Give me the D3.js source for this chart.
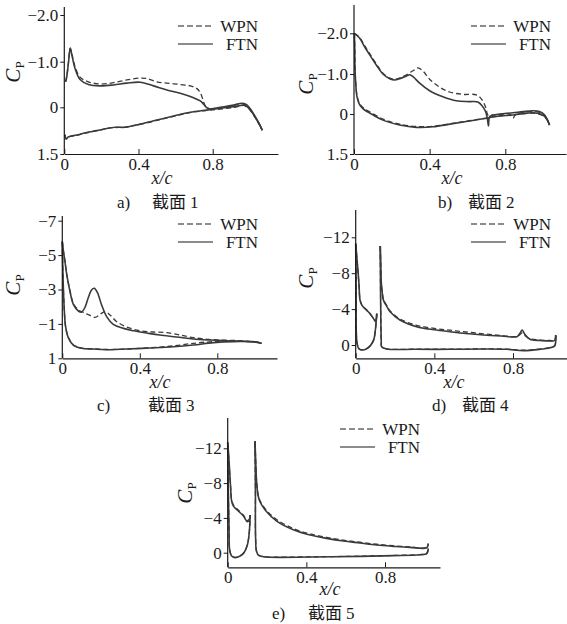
<!DOCTYPE html>
<html><head><meta charset="utf-8">
<script src="https://cdn.jsdelivr.net/npm/d3@7"></script>
<style>body{margin:0;background:#fff}svg{display:block}</style>
</head><body><svg id="c" width="567" height="624"></svg>
<script>
// ---------------- data ----------------
const seriesNames = ["WPN", "FTN"];
const xTickValues = [0, 0.4, 0.8];
const xTickLabels = ["0", "0.4", "0.8"];
const yTicksAB = [-2, -1, 0, 1.5];
const yTickLabelsAB = ["−2.0", "−1.0", "0", "1.5"];
const yTicksC = [-7, -5, -3, -1, 1];
const yTickLabelsC = ["−7", "−5", "−3", "−1", "1"];
const yTicksDE = [-12, -8, -4, 0];
const yTickLabelsDE = ["−12", "−8", "−4", "0"];
const captionLetters = ["a)", "b)", "c)", "d)", "e)"];
const sectionNames = ["截面 1", "截面 2", "截面 3", "截面 4", "截面 5"];

// panel a (截面 1)
const A_FTN = [
  [[0.007,-0.56],[0.013,-0.67],[0.022,-0.96],[0.032,-1.29],[0.041,-1.14],[0.058,-0.85],[0.085,-0.61],[0.13,-0.50],[0.193,-0.47],[0.265,-0.49],[0.337,-0.53],[0.409,-0.55],[0.481,-0.47],[0.553,-0.38],[0.625,-0.31],[0.697,-0.21],[0.733,-0.14],[0.751,-0.07],[0.766,0],[0.784,0.06]],
  [[0.004,0.88],[0.01,1.02],[0.022,0.95],[0.067,0.89],[0.121,0.81],[0.175,0.75],[0.229,0.68],[0.274,0.64],[0.328,0.64],[0.409,0.54],[0.499,0.41],[0.589,0.28],[0.679,0.16],[0.769,0.09],[0.841,0.03],[0.914,-0.015],[0.95,-0.04],[0.968,-0.05],[0.995,0.03],[1.022,0.25],[1.049,0.51],[1.067,0.73]],
  [[0.784,0.06],[0.841,0],[0.914,-0.05],[0.959,-0.09],[0.986,-0.05],[1.013,0.14],[1.04,0.41],[1.067,0.73]]
];
const A_WPN = [
  [[0.007,-0.56],[0.013,-0.67],[0.022,-0.96],[0.032,-1.29],[0.041,-1.16],[0.058,-0.89],[0.085,-0.66],[0.13,-0.56],[0.193,-0.51],[0.265,-0.54],[0.337,-0.60],[0.409,-0.64],[0.445,-0.63],[0.499,-0.56],[0.553,-0.53],[0.625,-0.50],[0.679,-0.47],[0.715,-0.41],[0.733,-0.32],[0.748,-0.16],[0.76,-0.03],[0.784,0.06]],
  [[0.004,0.88],[0.01,1.02],[0.022,0.96],[0.067,0.9],[0.121,0.82],[0.175,0.75],[0.229,0.68],[0.274,0.65],[0.328,0.64],[0.409,0.55],[0.499,0.42],[0.589,0.29],[0.679,0.17],[0.769,0.1],[0.841,0.06],[0.914,0],[0.95,-0.03],[0.968,-0.04],[0.995,0.05],[1.022,0.27],[1.049,0.53],[1.067,0.74]],
  [[0.784,0.06],[0.841,0.01],[0.914,-0.04],[0.959,-0.08],[0.986,-0.03],[1.013,0.16],[1.04,0.43],[1.067,0.74]]
];

// panel b (截面 2)
const B_FTN = [
  [[0.002,-2.0],[0.012,-1.96],[0.03,-1.88],[0.056,-1.67],[0.083,-1.47],[0.118,-1.22],[0.153,-1.0],[0.189,-0.88],[0.215,-0.85],[0.241,-0.88],[0.277,-0.95],[0.294,-0.98],[0.315,-0.92],[0.347,-0.77],[0.4,-0.58],[0.47,-0.43],[0.541,-0.33],[0.611,-0.31],[0.655,-0.30],[0.678,-0.20],[0.696,-0.06],[0.705,0.16],[0.711,0.45],[0.717,0.1],[0.735,0.04],[0.77,0.0],[0.84,-0.03],[0.893,-0.06],[0.946,-0.08],[0.981,-0.06],[1.008,0.04],[1.034,0.41]],
  [[0.002,-2.0],[0.004,-1.59],[0.005,-1.18],[0.009,-0.77],[0.016,-0.43],[0.03,-0.23],[0.056,-0.1],[0.092,0],[0.153,0.23],[0.241,0.41],[0.33,0.5],[0.418,0.48],[0.506,0.38],[0.594,0.28],[0.682,0.18],[0.77,0.075],[0.84,0.04],[0.893,-0.01],[0.946,-0.03],[0.99,0.01],[1.017,0.16],[1.034,0.41]]
];
const B_WPN = [
  [[0.002,-2.0],[0.012,-1.97],[0.03,-1.9],[0.056,-1.7],[0.083,-1.5],[0.118,-1.25],[0.153,-1.02],[0.189,-0.9],[0.215,-0.87],[0.241,-0.9],[0.277,-0.98],[0.312,-1.08],[0.338,-1.15],[0.365,-1.07],[0.4,-0.87],[0.453,-0.67],[0.506,-0.55],[0.576,-0.49],[0.647,-0.48],[0.673,-0.38],[0.696,-0.17],[0.708,0.04],[0.726,0.04],[0.77,0.02],[0.823,0],[0.84,0.16],[0.853,0.04],[0.893,-0.04],[0.946,-0.06],[0.981,-0.04],[1.008,0.06],[1.034,0.41]],
  [[0.002,-2.0],[0.004,-1.6],[0.005,-1.2],[0.009,-0.8],[0.016,-0.46],[0.03,-0.26],[0.056,-0.13],[0.092,-0.03],[0.153,0.19],[0.241,0.38],[0.33,0.47],[0.418,0.46],[0.506,0.37],[0.594,0.27],[0.682,0.17],[0.77,0.07],[0.84,0.03],[0.893,-0.01],[0.946,-0.02],[0.99,0.03],[1.017,0.18],[1.034,0.41]]
];

// panel c (截面 3)
const C_FTN = [
  [[0,-5.78],[0.005,-5.29],[0.014,-4.62],[0.022,-3.94],[0.04,-2.87],[0.057,-2.14],[0.083,-1.75],[0.1,-1.69],[0.117,-1.96],[0.134,-2.52],[0.151,-2.97],[0.165,-3.07],[0.181,-2.83],[0.203,-2.1],[0.229,-1.42],[0.263,-0.97],[0.315,-0.74],[0.367,-0.6],[0.435,-0.47],[0.504,-0.35],[0.59,-0.24],[0.676,-0.12],[0.762,-0.06],[0.849,-0.02],[0.917,0],[0.986,0.03],[1.029,0.13]],
  [[0,-5.78],[0.003,-4.03],[0.009,-2.1],[0.017,-0.84],[0.031,-0.2],[0.057,0.23],[0.1,0.42],[0.16,0.46],[0.246,0.5],[0.332,0.46],[0.453,0.4],[0.573,0.33],[0.676,0.23],[0.78,0.09],[0.883,0.03],[0.986,0.05],[1.029,0.13]]
];
const C_WPN = [
  [[0,-5.78],[0.005,-5.29],[0.014,-4.62],[0.022,-3.94],[0.04,-2.91],[0.057,-2.19],[0.083,-1.81],[0.108,-1.67],[0.143,-1.5],[0.169,-1.38],[0.194,-1.55],[0.22,-1.71],[0.246,-1.52],[0.281,-1.13],[0.332,-0.82],[0.401,-0.6],[0.47,-0.53],[0.539,-0.49],[0.608,-0.35],[0.676,-0.2],[0.78,-0.08],[0.917,-0.02],[1.029,0.09]],
  [[0,-5.78],[0.003,-4.0],[0.009,-2.1],[0.017,-0.86],[0.031,-0.22],[0.057,0.22],[0.1,0.41],[0.16,0.45],[0.246,0.49],[0.332,0.46],[0.453,0.39],[0.573,0.28],[0.676,0.13],[0.78,0.03],[0.883,0.01],[0.986,0.04],[1.029,0.1]]
];

// panel d (截面 4)
const D_FTN = [
  [[0,-11.3],[0.005,-10],[0.012,-8.15],[0.017,-6.67],[0.022,-5.0],[0.031,-4.44],[0.054,-3.9],[0.064,-3.7],[0.09,-2.96],[0.102,-2.6],[0.107,-3.5]],
  [[0,-11.3],[0.002,-6.3],[0.003,-1.48],[0.007,-0.19],[0.017,0.44],[0.034,0.56],[0.054,0.44],[0.075,0.07],[0.092,-0.6],[0.1,-1.67],[0.107,-3.5]],
  [[0.125,-11.04],[0.127,-9.26],[0.13,-7.04],[0.135,-5.85],[0.141,-5.0],[0.158,-4.3],[0.175,-3.7],[0.225,-2.78],[0.31,-2.04],[0.4,-1.7],[0.48,-1.48],[0.56,-1.28],[0.65,-1.11],[0.74,-1.0],[0.82,-0.93],[0.835,-1.3],[0.847,-1.67],[0.86,-1.2],[0.886,-0.63],[0.94,-0.5],[0.988,-0.44],[1.012,-0.5],[1.017,-1.11]],
  [[0.125,-11.04],[0.127,-4.44],[0.13,-0.37],[0.132,0.19],[0.158,0.44],[0.3,0.48],[0.48,0.48],[0.65,0.45],[0.768,0.48],[0.854,0.63],[0.937,0.48],[0.988,0.3],[1.012,0.1],[1.017,-1.11]]
];
const D_WPN = [
  [[0,-11.2],[0.005,-9.9],[0.012,-8.1],[0.017,-6.6],[0.022,-5.1],[0.031,-4.5],[0.054,-3.95],[0.064,-3.75],[0.09,-3.0],[0.102,-2.65],[0.107,-3.45]],
  [[0,-11.2],[0.002,-6.3],[0.003,-1.5],[0.007,-0.2],[0.017,0.42],[0.034,0.54],[0.054,0.42],[0.075,0.05],[0.092,-0.62],[0.1,-1.65],[0.107,-3.45]],
  [[0.125,-11.0],[0.127,-9.2],[0.13,-7.0],[0.135,-5.9],[0.141,-5.1],[0.158,-4.4],[0.175,-3.8],[0.225,-2.9],[0.31,-2.2],[0.4,-1.85],[0.48,-1.65],[0.56,-1.45],[0.65,-1.25],[0.74,-1.05],[0.82,-0.95],[0.835,-1.15],[0.847,-1.35],[0.86,-1.05],[0.886,-0.7],[0.94,-0.55],[0.988,-0.5],[1.012,-0.55],[1.017,-1.0]],
  [[0.125,-11.0],[0.127,-4.4],[0.13,-0.4],[0.132,0.17],[0.158,0.42],[0.3,0.47],[0.48,0.47],[0.65,0.44],[0.768,0.46],[0.854,0.58],[0.937,0.45],[0.988,0.28],[1.012,0.08],[1.017,-1.0]]
];

// panel e (截面 5)
const E_FTN = [
  [[0,-12.68],[0.005,-11.23],[0.01,-9.31],[0.015,-7.39],[0.02,-5.94],[0.029,-5.36],[0.054,-4.79],[0.08,-4.21],[0.1,-3.56],[0.11,-3.75],[0.114,-4.33]],
  [[0,-12.68],[0.003,-7.39],[0.007,-2.41],[0.01,-0.31],[0.019,0.34],[0.037,0.57],[0.063,0.38],[0.083,0],[0.1,-0.88],[0.11,-2.41],[0.114,-4.33]],
  [[0.139,-12.84],[0.142,-10.84],[0.147,-8.16],[0.154,-6.63],[0.164,-5.86],[0.198,-4.71],[0.249,-3.64],[0.334,-2.64],[0.419,-2.03],[0.503,-1.65],[0.588,-1.34],[0.673,-1.11],[0.758,-0.88],[0.842,-0.73],[0.927,-0.61],[1.012,-0.57],[1.02,-1.07]],
  [[0.139,-12.84],[0.141,-7.39],[0.142,-1.65],[0.147,-0.11],[0.159,0.34],[0.198,0.5],[0.419,0.5],[0.673,0.42],[0.842,0.34],[0.978,0.23],[1.012,0.11],[1.02,-0.5]]
];
const E_WPN = [
  [[0,-12.3],[0.005,-11.0],[0.01,-9.2],[0.015,-7.5],[0.02,-6.1],[0.029,-5.5],[0.054,-4.9],[0.08,-4.3],[0.1,-3.7],[0.11,-3.85],[0.114,-4.3]],
  [[0,-12.3],[0.003,-7.3],[0.007,-2.5],[0.01,-0.35],[0.019,0.3],[0.037,0.53],[0.063,0.35],[0.083,-0.03],[0.1,-0.9],[0.11,-2.4],[0.114,-4.3]],
  [[0.139,-12.6],[0.142,-10.8],[0.147,-8.2],[0.154,-6.8],[0.164,-6.0],[0.198,-4.85],[0.249,-3.8],[0.334,-2.78],[0.419,-2.15],[0.503,-1.77],[0.588,-1.45],[0.673,-1.2],[0.758,-0.97],[0.842,-0.8],[0.927,-0.66],[1.012,-0.6],[1.02,-1.0]],
  [[0.139,-12.6],[0.141,-7.3],[0.142,-1.7],[0.147,-0.15],[0.159,0.3],[0.198,0.47],[0.419,0.48],[0.673,0.4],[0.842,0.32],[0.978,0.21],[1.012,0.1],[1.02,-0.5]]
];

// ---------------- layout ----------------
const panels = [
  {wpn:A_WPN, ftn:A_FTN, yT:yTicksAB, yL:yTickLabelsAB, x0:64.3, x08:212.7, xRight:278, yTop:7, xAxisY:154,
   yDom:[-2,-1,0,1.5], yRng:[15,61.7,107.3,154], leg:[178,26], cp:[20,72], xc:[162,184], cap:[117,152,208]},
  {wpn:B_WPN, ftn:B_FTN, yT:yTicksAB, yL:yTickLabelsAB, x0:354, x08:505.3, xRight:566, yTop:5, xAxisY:154,
   yDom:[-2,-1,0,1.5], yRng:[33.3,74,114,154], leg:[471,26], cp:[313,84], xc:[452,184], cap:[438,468,208]},
  {wpn:C_WPN, ftn:C_FTN, yT:yTicksC, yL:yTickLabelsC, x0:62.3, x08:217.3, xRight:277, yTop:216, xAxisY:358.3,
   yDom:[-7,1], yRng:[220.7,358.3], leg:[178,224], cp:[20,285], xc:[160,388], cap:[97,148,411]},
  {wpn:D_WPN, ftn:D_FTN, yT:yTicksDE, yL:yTickLabelsDE, x0:355.7, x08:513, xRight:567, yTop:210, xAxisY:358.3,
   yDom:[-12,0], yRng:[237.3,345], leg:[471,224], cp:[313,278], xc:[454,388], cap:[432,462,411]},
  {wpn:E_WPN, ftn:E_FTN, yT:yTicksDE, yL:yTickLabelsDE, x0:227.7, x08:385, xRight:440, yTop:418, xAxisY:567.3,
   yDom:[-12,0], yRng:[448.3,552.7], leg:[340,429], cp:[192,493], xc:[330,595], cap:[272,308,618.5]}
];

const svg = d3.select("#c");
const serif = "'Liberation Serif','Times New Roman',serif";
const cjk = "'Noto Sans CJK SC','Noto Sans CJK JP',sans-serif";
const ink = "#1a1a1a", curveInk = "#3a3a3a";

panels.forEach((p, i) => {
  const x = d3.scaleLinear().domain([0, 0.8]).range([p.x0, p.x08]);
  const y = d3.scaleLinear().domain(p.yDom).range(p.yRng);
  const g = svg.append("g");

  // curves
  const line = d3.line().x(d => x(d[0])).y(d => y(d[1])).curve(d3.curveCatmullRom.alpha(0.5));
  p.wpn.forEach(seg => g.append("path").attr("d", line(seg)).attr("fill", "none")
    .attr("stroke", curveInk).attr("stroke-width", 1.3).attr("stroke-dasharray", "5,3"));
  p.ftn.forEach(seg => g.append("path").attr("d", line(seg)).attr("fill", "none")
    .attr("stroke", curveInk).attr("stroke-width", 1.6));

  // x axis
  const xAxisScale = x.copy().domain([0, x.invert(p.xRight)]).range([p.x0, p.xRight]);
  const xa = g.append("g").attr("transform", `translate(0,${p.xAxisY})`)
    .call(d3.axisBottom(xAxisScale).tickValues(xTickValues).tickFormat((d, k) => xTickLabels[k])
      .tickSizeInner(-5).tickSizeOuter(0).tickPadding(4));
  xa.select(".domain").attr("stroke", ink).attr("stroke-width", 1.2);
  xa.selectAll(".tick line").attr("stroke", ink).attr("stroke-width", 1);
  xa.selectAll(".tick text").attr("font-family", serif).attr("font-size", 17).attr("fill", ink);

  // y axis
  const ya = g.append("g").attr("transform", `translate(${p.x0},0)`)
    .call(d3.axisLeft(y).tickValues(p.yT).tickFormat((d, k) => p.yL[k])
      .tickSizeInner(4).tickSizeOuter(0).tickPadding(2));
  ya.select(".domain").remove();
  ya.selectAll(".tick line").attr("stroke", ink).attr("stroke-width", 1);
  ya.selectAll(".tick text").attr("font-family", serif).attr("font-size", 17).attr("fill", ink);
  g.append("line").attr("x1", p.x0).attr("x2", p.x0).attr("y1", p.yTop).attr("y2", p.xAxisY)
    .attr("stroke", ink).attr("stroke-width", 1.2);

  // legend
  seriesNames.forEach((name, k) => {
    const ly = p.leg[1] + k * 18;
    g.append("line").attr("x1", p.leg[0]).attr("x2", p.leg[0] + 35).attr("y1", ly).attr("y2", ly)
      .attr("stroke", ink).attr("stroke-width", 1.2)
      .attr("stroke-dasharray", k === 0 ? "6,3" : null);
    g.append("text").attr("x", p.leg[0] + 80).attr("y", ly + 6).attr("text-anchor", "end")
      .attr("font-family", serif).attr("font-size", 17).attr("fill", ink).text(name);
  });

  // Cp label
  const cpt = g.append("text").attr("transform", `translate(${p.cp[0]},${p.cp[1]}) rotate(-90)`)
    .attr("text-anchor", "middle").attr("font-family", serif).attr("fill", ink);
  cpt.append("tspan").attr("font-style", "italic").attr("font-size", 21).text("C");
  cpt.append("tspan").attr("font-size", 13).attr("dy", 4).text("P");

  // x/c label
  g.append("text").attr("x", p.xc[0]).attr("y", p.xc[1]).attr("text-anchor", "middle")
    .attr("font-family", serif).attr("font-style", "italic").attr("font-size", 18).attr("fill", ink)
    .text("x/c");

  // caption
  g.append("text").attr("x", p.cap[0]).attr("y", p.cap[2]).attr("font-family", serif)
    .attr("font-size", 17).attr("fill", ink).text(captionLetters[i]);
  const ct = g.append("text").attr("x", p.cap[1]).attr("y", p.cap[2]).attr("font-size", 17).attr("fill", ink);
  const parts = sectionNames[i].split(" ");
  ct.append("tspan").attr("font-family", cjk).text(parts[0]);
  ct.append("tspan").attr("font-family", serif).attr("dx", 4).text(parts[1]);
});
</script></body></html>
